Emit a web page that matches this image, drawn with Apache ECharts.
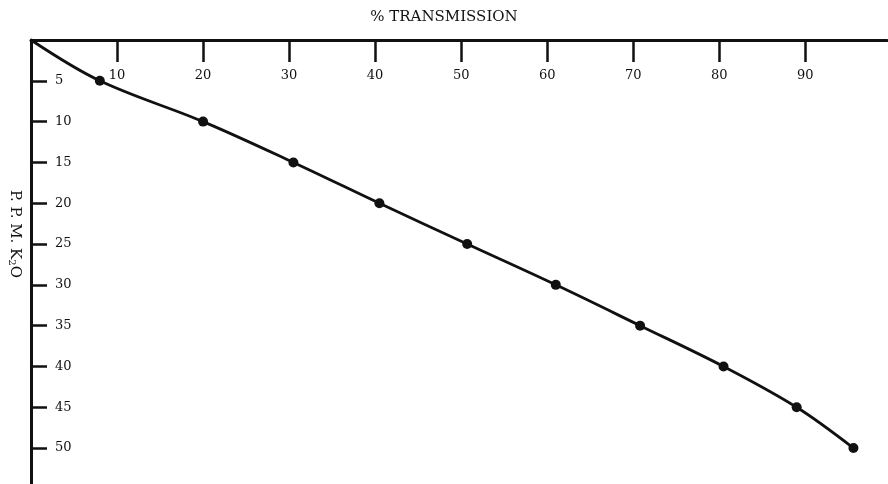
<!DOCTYPE html>
<html>
<head>
<meta charset="utf-8">
<script src="https://cdn.jsdelivr.net/npm/echarts@6/dist/echarts.min.js"></script>
<style>
  html, body { margin: 0; padding: 0; background: #fff; }
  #chart { width: 888px; height: 484px; }
</style>
</head>
<body>
<div id="chart"></div>
<script>
// Calibration curve: percent transmission vs. p.p.m. K2O
var transmission = [0, 8, 20, 30.5, 40.5, 50.7, 61, 70.8, 80.5, 89, 95.6];
var ppmK2O = [0, 5, 10, 15, 20, 25, 30, 35, 40, 45, 50];
var xTickValues = [10, 20, 30, 40, 50, 60, 70, 80, 90];
var yTickValues = [5, 10, 15, 20, 25, 30, 35, 40, 45, 50];

var FONT = '"DejaVu Serif", "Liberation Serif", serif';
var INK = '#111';

var points = transmission.map(function (t, i) {
  var item = { value: [t, ppmK2O[i]] };
  if (i === 0) { item.symbol = 'none'; }
  return item;
});

var chart = echarts.init(document.getElementById('chart'), null, { renderer: 'canvas' });
chart.setOption({
  backgroundColor: '#fff',
  animation: false,
  grid: { left: 31, top: 40, right: 1, bottom: 0, containLabel: false },
  xAxis: {
    type: 'value',
    position: 'top',
    min: 0,
    max: 99.5,
    splitLine: { show: false },
    axisLine: { show: true, onZero: false, lineStyle: { color: INK, width: 3 } },
    axisTick: {
      show: true, inside: true, length: 22, customValues: xTickValues,
      lineStyle: { color: INK, width: 2.5 }
    },
    axisLabel: {
      show: true, inside: true, margin: 29, customValues: xTickValues,
      color: INK, fontFamily: FONT, fontSize: 13
    }
  },
  yAxis: {
    type: 'value',
    inverse: true,
    min: 0,
    max: 54.4,
    splitLine: { show: false },
    axisLine: { show: true, onZero: false, lineStyle: { color: INK, width: 3 } },
    axisTick: {
      show: true, inside: true, length: 16, customValues: yTickValues,
      lineStyle: { color: INK, width: 2.5 }
    },
    axisLabel: {
      show: true, inside: true, margin: 24, customValues: yTickValues,
      align: 'left', color: INK, fontFamily: FONT, fontSize: 13
    }
  },
  graphic: [
    {
      type: 'text',
      x: 444,
      y: 10,
      style: {
        text: '% TRANSMISSION',
        font: '15px ' + FONT,
        fill: INK,
        textAlign: 'center'
      }
    },
    {
      type: 'text',
      x: 23,
      y: 190,
      rotation: -Math.PI / 2,
      style: {
        text: 'P. P. M. K{sub|2}O',
        font: '15px ' + FONT,
        fill: INK,
        rich: {
          sub: { fontSize: 10, fontFamily: FONT, fill: INK, padding: [6, 0, 0, 0] }
        }
      }
    }
  ],
  series: [{
    type: 'line',
    data: points,
    smooth: 0.35,
    symbol: 'circle',
    symbolSize: 10,
    itemStyle: { color: INK },
    lineStyle: { color: INK, width: 2.8 }
  }]
});
</script>
</body>
</html>
